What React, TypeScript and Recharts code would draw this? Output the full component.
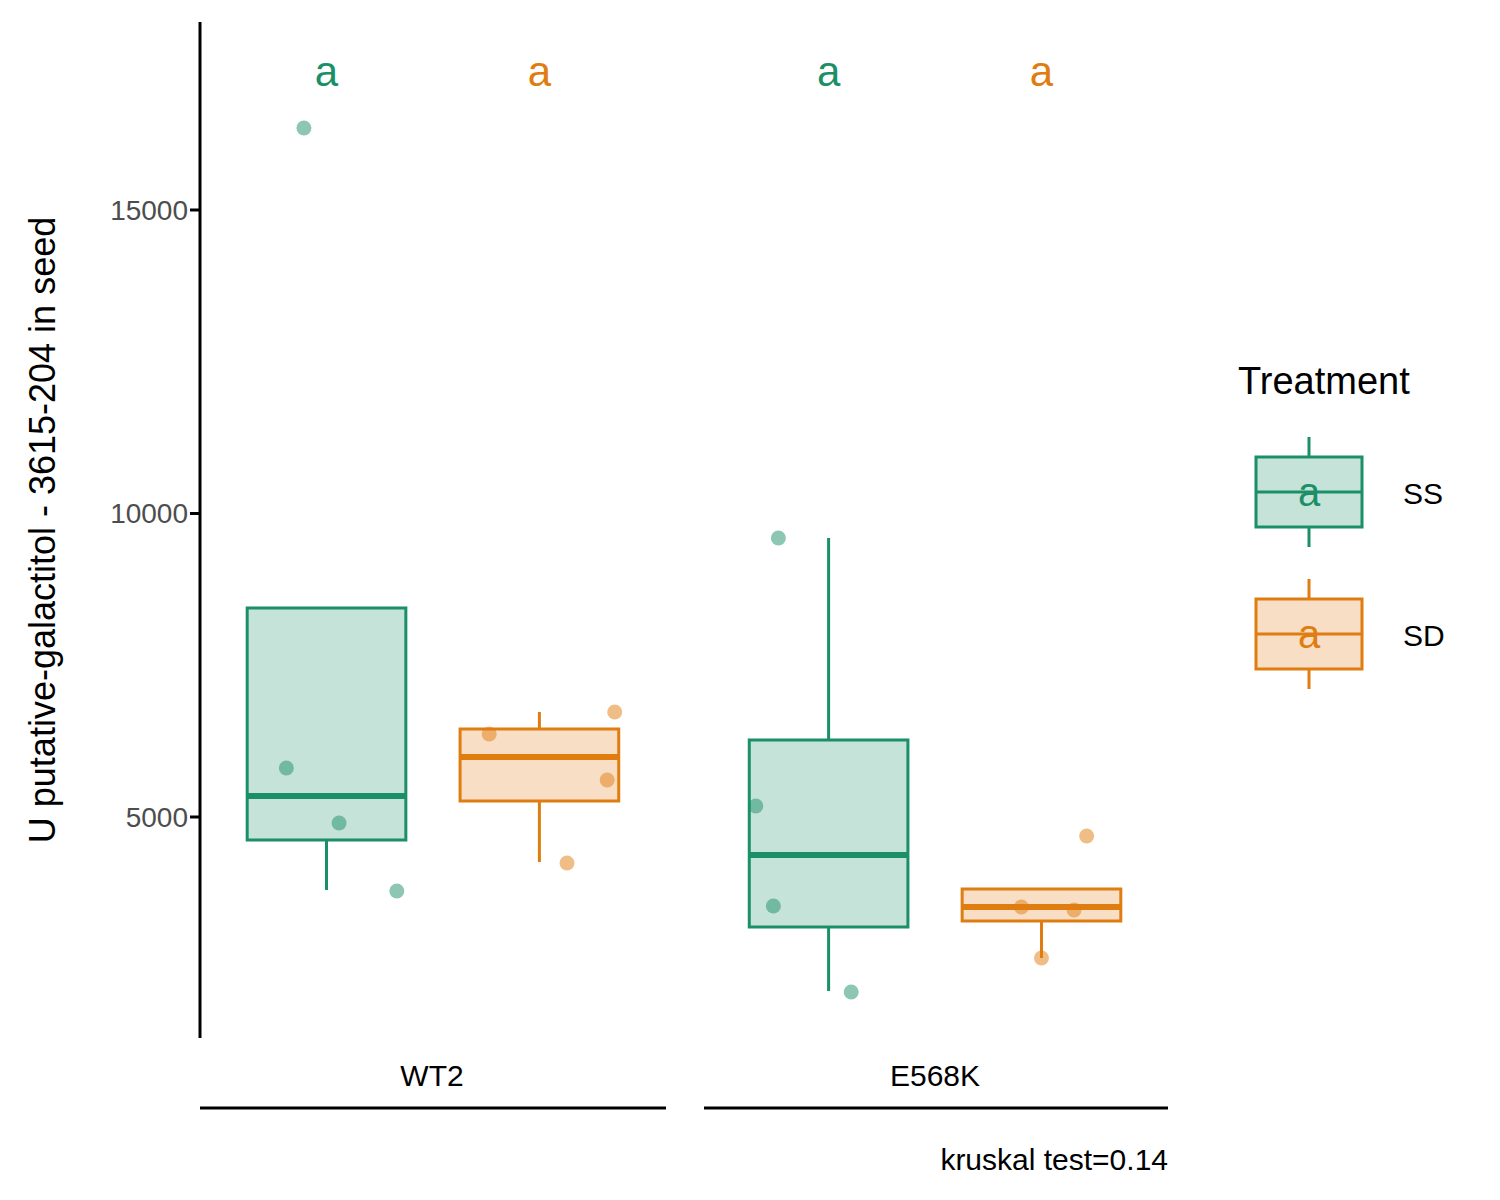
import React from "react";
import { ComposedChart, XAxis, YAxis, Scatter, ReferenceArea, ReferenceLine } from "recharts";

const GREEN = "#1b8f68";
const ORANGE = "#e07d10";
const GREEN_FILL = "#c6e3d9";
const ORANGE_FILL = "#f8dec4";
const FONT = "'Liberation Sans', Arial, sans-serif";

const groups = ["WT2", "E568K"];
const treatments = ["SS", "SD"];
const offsets = [-0.212, 0.212];
const halfWidth = 0.158;

// [group][treatment]: [lowerWhisker, q1, median, q3, upperWhisker]
const boxStats = [
  [[3797, 4621, 5346, 8443, 8443], [4259, 5264, 5988, 6450, 6730]],
  [[2133, 3187, 4374, 6268, 9596], [2677, 3286, 3517, 3814, 3814]],
];
// points per [group][treatment]: [xJitter, value]
const points = [
  [[[-0.045, 16351], [-0.08, 5807], [0.025, 4901], [0.14, 3780]], [[-0.1, 6367], [0.15, 6730], [0.135, 5610], [0.055, 4242]]],
  [[[-0.1, 9596], [-0.145, 5181], [-0.11, 3533], [0.045, 2117]], [[0.09, 4687], [-0.04, 3517], [0.065, 3468], [0, 2677]]],
];
const letters = [["a", "a"], ["a", "a"]];
const letterY = 17273;
const yTicks = [5000, 10000, 15000];
const colors = [GREEN, ORANGE];
const fills = [GREEN_FILL, ORANGE_FILL];

export default function App() {
  const els: any[] = [];
  groups.forEach((g, gi) =>
    treatments.forEach((t, ti) => {
      const c = gi + 1 + offsets[ti];
      const [lw, q1, med, q3, uw] = boxStats[gi][ti];
      const col = colors[ti];
      els.push(
        <ReferenceLine key={`wl${gi}${ti}`} segment={[{ x: c, y: lw }, { x: c, y: q1 }]} stroke={col} strokeWidth={3} />,
        <ReferenceLine key={`wu${gi}${ti}`} segment={[{ x: c, y: q3 }, { x: c, y: uw }]} stroke={col} strokeWidth={3} />,
        <ReferenceArea key={`b${gi}${ti}`} x1={c - halfWidth} x2={c + halfWidth} y1={q1} y2={q3} fill={fills[ti]} fillOpacity={1} stroke={col} strokeWidth={3} />,
        <ReferenceLine key={`m${gi}${ti}`} segment={[{ x: c - halfWidth, y: med }, { x: c + halfWidth, y: med }]} stroke={col} strokeWidth={6} />
      );
    })
  );
  const pointData: any[] = [];
  const letterData: any[] = [];
  groups.forEach((g, gi) =>
    treatments.forEach((t, ti) => {
      const c = gi + 1 + offsets[ti];
      points[gi][ti].forEach(([dx, v]) => pointData.push({ x: c + dx, y: v, col: colors[ti] }));
      letterData.push({ x: c, y: letterY, col: colors[ti], txt: letters[gi][ti] });
    })
  );

  return (
    <div style={{ position: "absolute", left: 0, top: 0, width: 1500, height: 1200, background: "#fff", fontFamily: FONT }}>
      <ComposedChart width={1500} height={1200} margin={{ top: 22, right: 332, bottom: 162, left: 100 }}>
        <XAxis type="number" dataKey="x" domain={[0.536, 2.464]} hide allowDataOverflow />
        <YAxis type="number" dataKey="y" domain={[1359, 18097]} ticks={yTicks} width={100}
          axisLine={{ stroke: "#000", strokeWidth: 3 }} tickLine={{ stroke: "#000", strokeWidth: 3 }} tickSize={10}
          tick={{ fill: "#4d4d4d", fontSize: 28, fontFamily: FONT }} allowDataOverflow />
        {els}
        <Scatter data={pointData} isAnimationActive={false}
          shape={(p: any) => <circle cx={p.cx} cy={p.cy} r={7.5} fill={p.payload.col} fillOpacity={0.5} />} />
        <Scatter data={letterData} isAnimationActive={false}
          shape={(p: any) => <text x={p.cx} y={p.cy} dy={14} textAnchor="middle" fontSize={42} fill={p.payload.col} fontFamily={FONT}>{p.payload.txt}</text>} />
      </ComposedChart>
      <svg width={1500} height={1200} style={{ position: "absolute", left: 0, top: 0, pointerEvents: "none" }} fontFamily={FONT}>
        <text transform="translate(55,530) rotate(-90)" textAnchor="middle" fontSize={36} fill="#000">U putative-galactitol - 3615-204 in seed</text>
        <text x={432} y={1086} textAnchor="middle" fontSize={30}>WT2</text>
        <text x={935} y={1086} textAnchor="middle" fontSize={30}>E568K</text>
        <line x1={200} x2={666} y1={1108} y2={1108} stroke="#000" strokeWidth={3} />
        <line x1={704} x2={1168} y1={1108} y2={1108} stroke="#000" strokeWidth={3} />
        <text x={1168} y={1170} textAnchor="end" fontSize={30}>kruskal test=0.14</text>
        <text x={1238} y={394} fontSize={38}>Treatment</text>
        {treatments.map((t, i) => {
          const top = 457 + i * 142;
          return (
            <g key={t}>
              <line x1={1309} x2={1309} y1={top - 20} y2={top + 90} stroke={colors[i]} strokeWidth={3} />
              <rect x={1256} y={top} width={106} height={70} fill={fills[i]} stroke={colors[i]} strokeWidth={3} />
              <line x1={1256} x2={1362} y1={top + 35} y2={top + 35} stroke={colors[i]} strokeWidth={3} />
              <text x={1309} y={top + 49} textAnchor="middle" fontSize={40} fill={colors[i]}>a</text>
              <text x={1403} y={top + 47} fontSize={30}>{t}</text>
            </g>
          );
        })}
      </svg>
    </div>
  );
}
